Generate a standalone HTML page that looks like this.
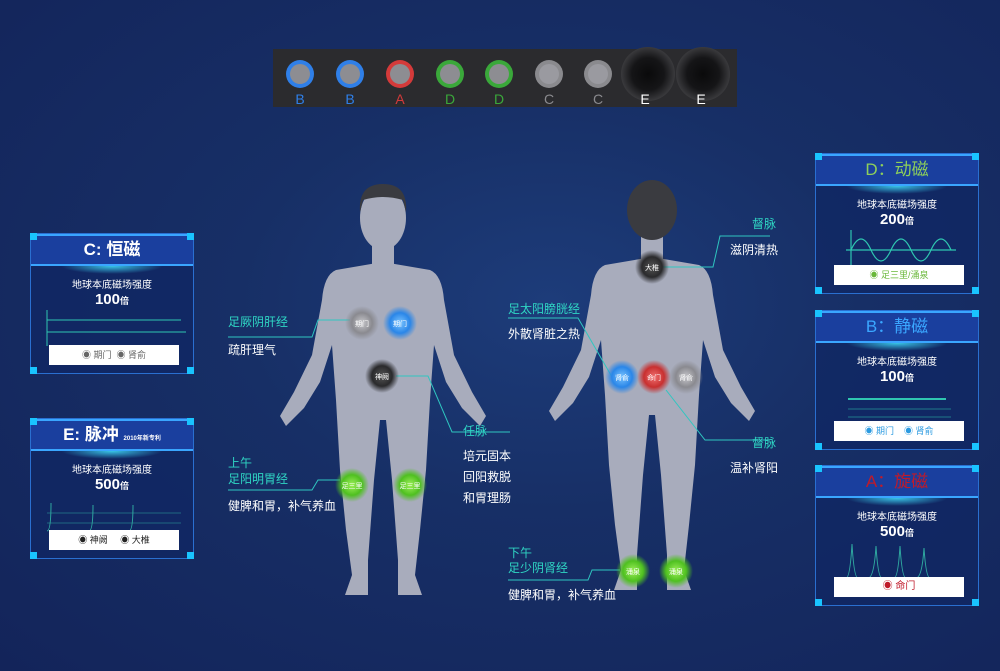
<!DOCTYPE html>
<html><head><meta charset="utf-8">
<style>
html,body{margin:0;padding:0}
body{width:1000px;height:671px;overflow:hidden;background:radial-gradient(ellipse at 55% 45%,#1d3c7a 0%,#172f66 40%,#13245a 100%);font-family:"Liberation Sans","Noto Sans CJK SC",sans-serif;position:relative}
.t{position:absolute;white-space:nowrap}
.teal{color:#2fd6c4;font-size:12px}
.wh{color:#fff;font-size:12px}
.panel{position:absolute;width:162px;border:1px solid #2a6fd0;background:rgba(16,38,100,.7)}
.panel .hd{height:28px;background:#1a3f9e;border-top:2px solid #3aa6ff;border-bottom:2px solid #3aa6ff;text-align:center;font-size:17px;line-height:28px;font-weight:bold}
.panel .glow{height:8px;margin:0 30px;background:radial-gradient(ellipse at center top,#39c6e8 0%,rgba(57,198,232,0) 70%)}
.panel .l1{color:#fff;font-size:10px;text-align:center;margin-top:2px}
.panel .l2{color:#fff;font-size:15px;font-weight:bold;text-align:center}
.panel .l2 small{font-size:9px}
.panel .btn{position:absolute;left:18px;right:14px;bottom:8px;height:20px;background:#fff;font-size:9px;text-align:center;line-height:20px}
.cn{position:absolute;width:7px;height:7px;background:#19c4ff}
</style></head><body>
<svg width="1000" height="671" style="position:absolute;left:0;top:0">
<defs>
<radialGradient id="gG"><stop offset="0" stop-color="#9ef05a"/><stop offset=".6" stop-color="#4fc020"/><stop offset="1" stop-color="#4fc020" stop-opacity="0"/></radialGradient>
<radialGradient id="gB"><stop offset="0" stop-color="#7ac4ff"/><stop offset=".6" stop-color="#2a86e8"/><stop offset="1" stop-color="#2a86e8" stop-opacity="0"/></radialGradient>
<radialGradient id="gR"><stop offset="0" stop-color="#f07070"/><stop offset=".6" stop-color="#c83030"/><stop offset="1" stop-color="#c83030" stop-opacity="0"/></radialGradient>
<radialGradient id="gW"><stop offset="0" stop-color="#c8c8cc"/><stop offset=".6" stop-color="#8a8a90"/><stop offset="1" stop-color="#8a8a90" stop-opacity="0"/></radialGradient>
<radialGradient id="gK"><stop offset="0" stop-color="#555"/><stop offset=".6" stop-color="#2a2a2c"/><stop offset="1" stop-color="#2a2a2c" stop-opacity="0"/></radialGradient>
<radialGradient id="gE"><stop offset="0" stop-color="#0a0a0b"/><stop offset=".6" stop-color="#151517"/><stop offset="1" stop-color="#3a3a3d"/></radialGradient>
<path id="bd" d="M383 262 L430 270 Q442 275 444 300 L454 355 L472 392 L486 416 L480 426 L462 408 L446 382 L434 345 L430 400 L426 470 L420 530 L415 575 L422 595 L398 595 L398 560 L392 480 L386 420 L380 420 L374 480 L368 560 L368 595 L345 595 L352 575 L346 530 L340 470 L336 400 L332 345 L320 382 L304 408 L286 426 L280 416 L294 392 L312 355 L322 300 Q324 275 336 270 Z"/>
</defs>
<rect x="273" y="49" width="464" height="58" fill="#2b2b2e"/>
<g font-size="14" text-anchor="middle">
<circle cx="300" cy="74" r="14" fill="#2f7fe8"/><circle cx="300" cy="74" r="10" fill="#8d8d92"/><text x="300" y="104" fill="#2f7fe8">B</text>
<circle cx="350" cy="74" r="14" fill="#2f7fe8"/><circle cx="350" cy="74" r="10" fill="#8d8d92"/><text x="350" y="104" fill="#2f7fe8">B</text>
<circle cx="400" cy="74" r="14" fill="#d43a3a"/><circle cx="400" cy="74" r="10" fill="#8d8d92"/><text x="400" y="104" fill="#d43a3a">A</text>
<circle cx="450" cy="74" r="14" fill="#3aa83a"/><circle cx="450" cy="74" r="10" fill="#8d8d92"/><text x="450" y="104" fill="#3aa83a">D</text>
<circle cx="499" cy="74" r="14" fill="#3aa83a"/><circle cx="499" cy="74" r="10" fill="#8d8d92"/><text x="499" y="104" fill="#3aa83a">D</text>
<circle cx="549" cy="74" r="14" fill="#8a8a8e"/><circle cx="549" cy="74" r="10" fill="#9a9aa0"/><text x="549" y="104" fill="#8a8a8e">C</text>
<circle cx="598" cy="74" r="14" fill="#8a8a8e"/><circle cx="598" cy="74" r="10" fill="#9a9aa0"/><text x="598" y="104" fill="#8a8a8e">C</text>
<circle cx="648" cy="74" r="27" fill="url(#gE)"/><text x="645" y="104" fill="#fff">E</text>
<circle cx="703" cy="74" r="27" fill="url(#gE)"/><text x="701" y="104" fill="#fff">E</text>
</g>
<use href="#bd" fill="#a8acbc"/>
<rect x="372" y="240" width="22" height="30" fill="#a8acbc"/>
<ellipse cx="383" cy="218" rx="23" ry="32" fill="#a8acbc"/>
<path d="M360 212 Q358 184 383 184 Q408 184 406 212 L403 200 Q383 194 363 200 Z" fill="#3a3b40"/>
<g transform="translate(269,-5)"><use href="#bd" fill="#a8acbc"/></g>
<rect x="641" y="235" width="22" height="30" fill="#a8acbc"/>
<ellipse cx="652" cy="210" rx="25" ry="30" fill="#3a3b40"/>
<g stroke="#2fc6c0" stroke-width="1" fill="none">
<polyline points="228,337 312,337 318,320 350,320"/>
<polyline points="396,376 428,376 452,432 510,432"/>
<polyline points="228,490 312,490 318,480 340,480"/>
<polyline points="662,267 713,267 720,236 770,236"/>
<polyline points="508,318 578,318 612,377"/>
<polyline points="666,390 705,440 770,440"/>
<polyline points="508,580 588,580 592,570 620,570"/>
</g>
<g font-size="7" fill="#fff" text-anchor="middle">
<circle cx="362" cy="323" r="17" fill="url(#gW)"/><text x="362" y="326">期门</text>
<circle cx="400" cy="323" r="17" fill="url(#gB)"/><text x="400" y="326">期门</text>
<circle cx="382" cy="376" r="17" fill="url(#gK)"/><text x="382" y="379">神阙</text>
<circle cx="352" cy="485" r="17" fill="url(#gG)"/><text x="352" y="488">足三里</text>
<circle cx="410" cy="485" r="17" fill="url(#gG)"/><text x="410" y="488">足三里</text>
<circle cx="652" cy="267" r="17" fill="url(#gK)"/><text x="652" y="270">大椎</text>
<circle cx="622" cy="377" r="17" fill="url(#gB)"/><text x="622" y="380">肾俞</text>
<circle cx="654" cy="377" r="17" fill="url(#gR)"/><text x="654" y="380">命门</text>
<circle cx="686" cy="377" r="17" fill="url(#gW)"/><text x="686" y="380">肾俞</text>
<circle cx="633" cy="571" r="17" fill="url(#gG)"/><text x="633" y="574">涌泉</text>
<circle cx="676" cy="571" r="17" fill="url(#gG)"/><text x="676" y="574">涌泉</text>
</g>
</svg>

<div class="t teal" style="left:228px;top:313px">足厥阴肝经</div>
<div class="t wh" style="left:228px;top:341px">疏肝理气</div>
<div class="t teal" style="left:463px;top:422px">任脉</div>
<div class="t wh" style="left:463px;top:446px;line-height:21px">培元固本<br>回阳救脱<br>和胃理肠</div>
<div class="t teal" style="left:228px;top:455px;line-height:16px">上午<br>足阳明胃经</div>
<div class="t wh" style="left:228px;top:497px">健脾和胃，补气养血</div>
<div class="t teal" style="left:752px;top:215px">督脉</div>
<div class="t wh" style="left:730px;top:241px">滋阴清热</div>
<div class="t teal" style="left:508px;top:300px">足太阳膀胱经</div>
<div class="t wh" style="left:508px;top:325px">外散肾脏之热</div>
<div class="t teal" style="left:752px;top:434px">督脉</div>
<div class="t wh" style="left:730px;top:459px">温补肾阳</div>
<div class="t teal" style="left:508px;top:546px;line-height:15px">下午<br>足少阴肾经</div>
<div class="t wh" style="left:508px;top:586px">健脾和胃，补气养血</div>

<div class="panel" style="left:30px;top:233px;height:139px">
<div class="hd" style="color:#fff">C: 恒磁</div><div class="glow"></div>
<div class="l1">地球本底磁场强度</div><div class="l2">100<small>倍</small></div>
<svg width="162" height="40" style="display:block"><g stroke="#2fc6b0" stroke-width="1"><line x1="16" y1="2" x2="16" y2="38"/><line x1="16" y1="12" x2="150" y2="12"/><line x1="16" y1="24" x2="155" y2="24"/></g></svg>
<div class="btn" style="color:#666">◉ 期门 &nbsp;◉ 肾俞</div>
<div class="cn" style="left:-1px;top:-1px"></div><div class="cn" style="right:-1px;top:-1px"></div><div class="cn" style="left:-1px;bottom:-1px"></div><div class="cn" style="right:-1px;bottom:-1px"></div>
</div>
<div class="panel" style="left:30px;top:418px;height:139px">
<div class="hd" style="color:#fff">E: 脉冲 <small style="font-size:6px">2010年新专利</small></div><div class="glow"></div>
<div class="l1">地球本底磁场强度</div><div class="l2">500<small>倍</small></div>
<svg width="162" height="40" style="display:block"><g stroke="#2fa8a0" stroke-width="1" fill="none"><path d="M16 38 Q20 38 20 10 M58 38 Q62 38 62 12 M98 38 Q102 38 102 12"/><line x1="16" y1="20" x2="150" y2="20" stroke-opacity=".5"/><line x1="16" y1="30" x2="150" y2="30" stroke-opacity=".5"/></g></svg>
<div class="btn" style="color:#222">◉ 神阙 &nbsp;&nbsp;&nbsp;&nbsp;◉ 大椎</div>
<div class="cn" style="left:-1px;top:-1px"></div><div class="cn" style="right:-1px;top:-1px"></div><div class="cn" style="left:-1px;bottom:-1px"></div><div class="cn" style="right:-1px;bottom:-1px"></div>
</div>
<div class="panel" style="left:815px;top:153px;height:139px">
<div class="hd" style="color:#8ed05a;font-weight:normal">D：动磁</div><div class="glow"></div>
<div class="l1">地球本底磁场强度</div><div class="l2">200<small>倍</small></div>
<svg width="162" height="44" style="display:block"><g stroke="#2fc6b0" stroke-width="1.2" fill="none"><line x1="35" y1="2" x2="35" y2="42"/><line x1="30" y1="22" x2="140" y2="22"/><path d="M35 22 Q45 0 55 22 T75 22 T95 22 T115 22 T135 22"/></g></svg>
<div class="btn" style="color:#6ab83a">◉ 足三里/涌泉</div>
<div class="cn" style="left:-1px;top:-1px"></div><div class="cn" style="right:-1px;top:-1px"></div><div class="cn" style="left:-1px;bottom:-1px"></div><div class="cn" style="right:-1px;bottom:-1px"></div>
</div>
<div class="panel" style="left:815px;top:310px;height:138px">
<div class="hd" style="color:#3aa6ff;font-weight:normal">B：静磁</div><div class="glow"></div>
<div class="l1">地球本底磁场强度</div><div class="l2">100<small>倍</small></div>
<svg width="162" height="40" style="display:block"><g stroke="#2fc6b0" stroke-width="1" fill="none"><line x1="32" y1="14" x2="130" y2="14" stroke-width="2"/><line x1="32" y1="24" x2="135" y2="24" stroke-opacity=".5"/><line x1="32" y1="32" x2="135" y2="32" stroke-opacity=".5"/></g></svg>
<div class="btn" style="color:#2a9ae0">◉ 期门 &nbsp;&nbsp;&nbsp;◉ 肾俞</div>
<div class="cn" style="left:-1px;top:-1px"></div><div class="cn" style="right:-1px;top:-1px"></div><div class="cn" style="left:-1px;bottom:-1px"></div><div class="cn" style="right:-1px;bottom:-1px"></div>
</div>
<div class="panel" style="left:815px;top:465px;height:139px">
<div class="hd" style="color:#c01a2a;font-weight:normal">A：旋磁</div><div class="glow"></div>
<div class="l1">地球本底磁场强度</div><div class="l2">500<small>倍</small></div>
<svg width="162" height="40" style="display:block"><g stroke="#2fa8a0" stroke-width="1" fill="none"><path d="M30 38 Q34 38 36 4 Q38 38 42 38 L52 38 Q58 38 60 6 Q62 38 66 38 L78 38 Q82 38 84 6 Q86 38 90 38 L100 38 Q106 38 108 8 Q110 38 114 38 L135 38"/></g></svg>
<div class="btn" style="color:#c01a2a;font-size:10px">◉ 命门</div>
<div class="cn" style="left:-1px;top:-1px"></div><div class="cn" style="right:-1px;top:-1px"></div><div class="cn" style="left:-1px;bottom:-1px"></div><div class="cn" style="right:-1px;bottom:-1px"></div>
</div>
</body></html>
